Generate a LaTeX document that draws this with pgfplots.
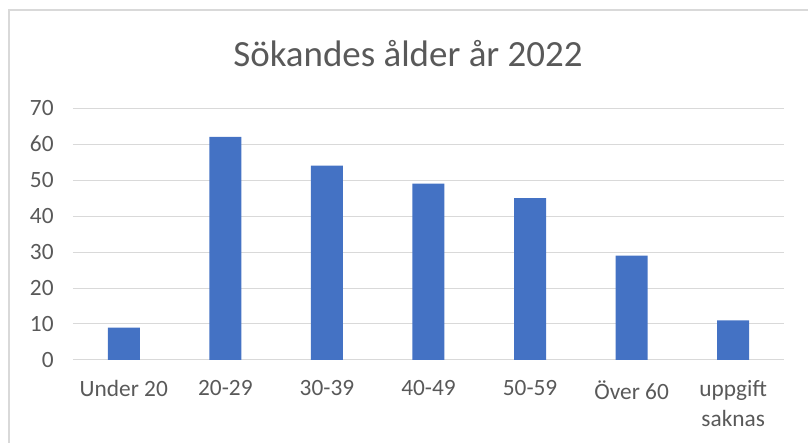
\documentclass[border=0pt]{standalone}
\usepackage{fontspec}
\setmainfont{Carlito}
\usepackage{pgfplots}
\pgfplotsset{compat=1.18}
\definecolor{barc}{HTML}{4472C4}
\definecolor{gridc}{HTML}{D9D9D9}
\definecolor{textc}{HTML}{595959}
\begin{document}
\begin{tikzpicture}
\useasboundingbox (0pt,0pt) rectangle (606pt,332.25pt);
\draw[gridc, line width=1pt] (6.75pt,-2pt) -- (6.75pt,324.75pt) -- (610pt,324.75pt);
\node[anchor=base, text=textc, font=\fontsize{27.7}{33}\selectfont] at (306pt,282pt) {Sökandes ålder år 2022};
\begin{axis}[
  at={(54.75pt,62.25pt)}, anchor=south west,
  scale only axis, width=533.25pt, height=189pt,
  ymin=0, ymax=70, ytick={0,10,...,70},
  xmin=-0.5, xmax=6.5, xtick={0,...,6},
  xticklabels={Under 20,20-29,30-39,40-49,50-59,Över 60,{uppgift\\saknas}},
  axis line style={draw=none},
  ymajorgrids, grid style={gridc, line width=0.75pt},
  major tick length=0pt,
  tick label style={font=\fontsize{17.5}{22.5}\selectfont, text=textc},
  xticklabel style={align=center, yshift=-12pt},
  yticklabel style={xshift=-11pt},
  /pgf/number format/assume math mode=true,
  clip=false,
]
\addplot[ybar, bar width=24pt, fill=barc, draw=none] coordinates {
(0,9) (1,62) (2,54) (3,49) (4,45) (5,29) (6,11)};
\end{axis}
\end{tikzpicture}
\end{document}
